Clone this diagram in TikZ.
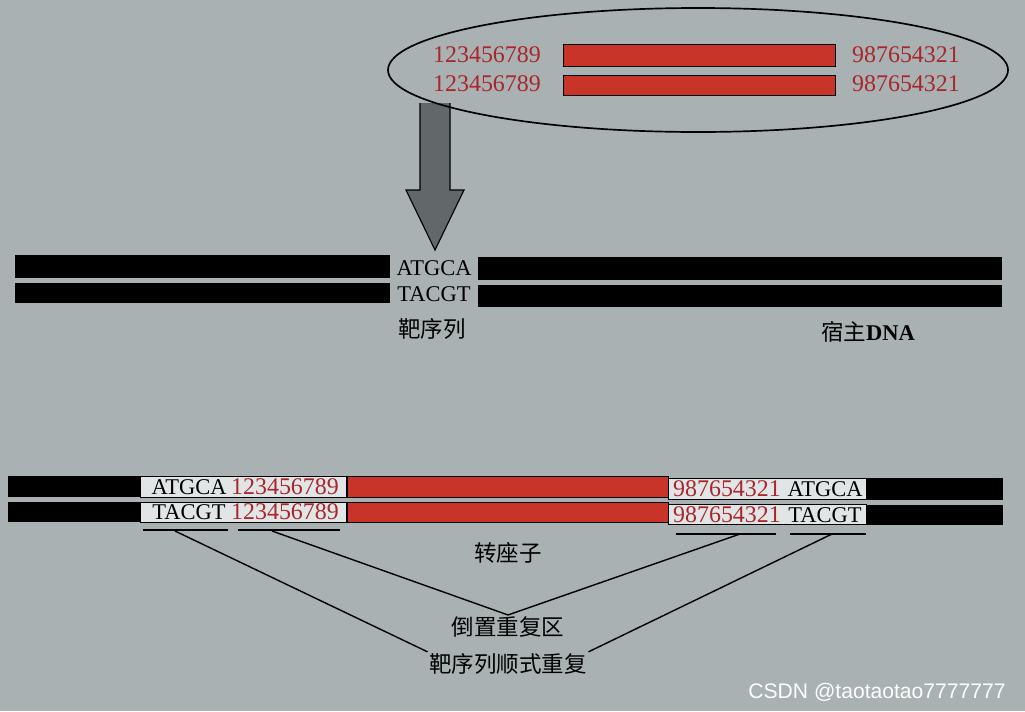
\documentclass[tikz,border=0pt]{standalone}
\usepackage{fontspec}
\setmainfont{Liberation Serif}
\newfontfamily\cjk{Noto Sans CJK SC}
\newfontfamily\wmfont{Liberation Sans}
\usetikzlibrary{positioning}
\definecolor{bgcol}{RGB}{169,177,179}
\definecolor{tnred}{RGB}{200,52,40}
\definecolor{numred}{RGB}{168,38,44}
\definecolor{arrgray}{RGB}{98,103,106}
\definecolor{boxwhite}{RGB}{226,229,229}
\tikzset{
    dna/.style={fill=black},
    tn/.style={fill=tnred, draw=black, line width=0.6pt},
    irbox/.style={fill=boxwhite, draw=black, line width=0.4pt},
    seq/.style={font=\fontsize{16}{16}\selectfont, inner sep=0pt},
    num/.style={inner sep=0pt, text=numred, font=\fontsize{17}{17}\selectfont},
    lbl/.style={font=\cjk\fontsize{16}{16}\selectfont, inner sep=1pt},
    uline/.style={line width=1.4pt},
    conn/.style={line width=1pt}}

\begin{document}
\begin{tikzpicture}[x=0.025cm,y=-0.025cm]
\fill[bgcol] (0,0) rectangle (1025,711);
\useasboundingbox (0,0) rectangle (1025,711);

\draw[fill=arrgray, line width=0.8pt] (420,103) -- (420,190) -- (406,190) -- (435,250) -- (464,190) -- (450,190) -- (450,103);
\draw[line width=1.2pt] (698,70) ellipse (310 and 62);
\draw[tn] (563,44) rectangle (835,66);
\draw[tn] (563,75) rectangle (835,95);
\node[num] (e1) at (487,55) {123456789};
\node[num] (e2) at (487,84) {123456789};
\node[num] (e3) at (906,55) {987654321};
\node[num] (e4) at (906,84) {987654321};

\fill[dna] (15,255) rectangle (390,278);
\fill[dna] (15,283) rectangle (390,303);
\fill[dna] (478,257) rectangle (1002,280);
\fill[dna] (478,285) rectangle (1002,307);
\node[seq] (t1) at (434,268) {ATGCA};
\node[seq] (t2) at (434,294) {TACGT};
\node[lbl] (target) at (432,329) {靶序列};
\node[lbl] (host) at (868,332) {宿主\textrm{\bfseries DNA}};

\fill[dna] (8,476) rectangle (140,497);
\fill[dna] (8,502) rectangle (140,522);
\draw[irbox] (140,476) rectangle (346,497);
\draw[irbox] (140,502) rectangle (346,522);
\draw[tn] (347,476) rectangle (668,497);
\draw[tn] (347,502) rectangle (668,522);
\draw[irbox] (668,478) rectangle (866,499);
\draw[irbox] (668,504) rectangle (866,524);
\fill[dna] (866,478) rectangle (1003,500);
\fill[dna] (866,505) rectangle (1003,525);

\node[seq] (a1) at (189,487) {ATGCA};
\node[num] (a2) at (285,487) {123456789};
\node[seq] (b1) at (189,512) {TACGT};
\node[num] (b2) at (285,512) {123456789};
\node[num] (a3) at (727,489) {987654321};
\node[seq] (a4) at (825,489) {ATGCA};
\node[num] (b3) at (727,515) {987654321};
\node[seq] (b4) at (825,515) {TACGT};

\draw[uline] (143,530) -- (228,530);
\draw[uline] (238,530) -- (340,530);
\draw[uline] (676,534) -- (776,534);
\draw[uline] (790,534) -- (866,534);
\coordinate (u1) at (175,531);
\coordinate (u2) at (272,531);
\coordinate (u3) at (740,534);
\coordinate (u4) at (832,534);

\node[lbl] (tnlbl) at (508,553) {转座子};
\node[lbl] (irlbl) at (508,627) {倒置重复区};
\node[lbl] (drlbl) at (508,664) {靶序列顺式重复};
\draw[conn] (u1) -- (drlbl.north west);
\draw[conn] (u2) -- (irlbl.north);
\draw[conn] (u3) -- (irlbl.north);
\draw[conn] (u4) -- (drlbl.north east);

\node[text=white, font=\wmfont\fontsize{15}{15}\selectfont, inner sep=0pt] (wm) at (877,692) {CSDN @taotaotao7777777};
\end{tikzpicture}
\end{document}
